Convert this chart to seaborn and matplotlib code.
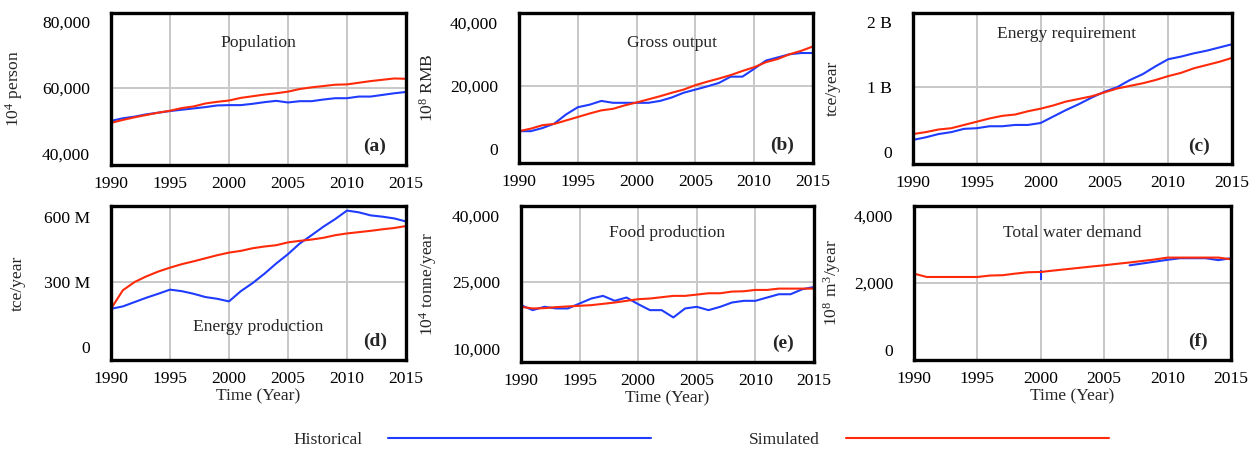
import numpy as np
import pandas as pd
import matplotlib
matplotlib.use("Agg")
import matplotlib.pyplot as plt
from matplotlib.lines import Line2D
import seaborn as sns

# data
years = list(range(1990, 2016))

pop_hist = [49900, 50700, 51200, 51900, 52400, 52900, 53300, 53700, 54100, 54600, 54700, 54700, 55100,
            55600, 56000, 55500, 55900, 55900, 56400, 56800, 56800, 57300, 57300, 57800, 58300, 58700]
pop_sim = [49300, 50200, 51000, 51700, 52400, 53000, 53800, 54300, 55200, 55700, 56100, 56900, 57400,
           57900, 58300, 58800, 59600, 60100, 60500, 60900, 61000, 61500, 62000, 62400, 62800, 62700]

gdp_hist = [5700, 5700, 6700, 8100, 11000, 13300, 14100, 15300, 14700, 14700, 14700, 14700, 15300,
            16400, 17900, 18900, 19900, 21000, 23000, 23000, 25500, 28100, 29100, 30100, 30500, 30500]
gdp_sim = [5700, 6500, 7600, 8000, 9100, 10200, 11300, 12300, 12800, 13900, 14800, 15800, 16800,
           17900, 18900, 20300, 21400, 22400, 23500, 24800, 26000, 27600, 28600, 30100, 31200, 32600]

# billions tce/year
ereq_hist = [0.19, 0.23, 0.28, 0.31, 0.36, 0.37, 0.40, 0.40, 0.42, 0.42, 0.45, 0.55, 0.65,
             0.74, 0.84, 0.93, 1.00, 1.11, 1.20, 1.32, 1.43, 1.47, 1.52, 1.56, 1.61, 1.66]
ereq_sim = [0.28, 0.31, 0.35, 0.37, 0.42, 0.47, 0.52, 0.56, 0.58, 0.63, 0.67, 0.72, 0.78,
            0.82, 0.86, 0.92, 0.98, 1.02, 1.06, 1.11, 1.17, 1.22, 1.29, 1.34, 1.39, 1.45]

# millions tce/year
eprod_hist = [177, 188, 208, 228, 246, 265, 258, 246, 231, 223, 211, 258, 295,
              338, 385, 428, 477, 515, 554, 589, 628, 620, 606, 600, 592, 578]
eprod_sim = [177, 262, 300, 326, 348, 366, 382, 395, 409, 423, 435, 443, 455,
             463, 469, 482, 489, 495, 503, 515, 523, 529, 535, 542, 548, 557]

food_hist = [19780, 18650, 19400, 19030, 19030, 20150, 21270, 21870, 20750, 21500, 20000, 18650, 18650,
             17000, 19030, 19400, 18650, 19400, 20370, 20750, 20750, 21500, 22240, 22240, 23360, 23880]
food_sim = [19400, 19030, 19100, 19330, 19480, 19630, 19780, 20070, 20370, 20750, 21120, 21270, 21570,
            21870, 21870, 22160, 22460, 22460, 22840, 22910, 23210, 23210, 23510, 23510, 23510, 23510]

water_hist_years = [2000, 2007, 2008, 2009, 2010, 2011, 2012, 2013, 2014, 2015]
water_hist = [2250, 2525, 2580, 2635, 2690, 2737, 2737, 2737, 2680, 2737]
water_hist_seg = [0, 1, 1, 1, 1, 1, 1, 1, 1, 1]
water_sim = [2279, 2179, 2179, 2179, 2179, 2179, 2222, 2232, 2280, 2320, 2328, 2370, 2410,
             2450, 2490, 2527, 2570, 2610, 2655, 2700, 2756, 2756, 2756, 2756, 2756, 2706]

blue = "#1f3cff"
red = "#ff2a0a"

sns.set_theme(style="white")
plt.rcParams["font.family"] = ["Liberation Serif", "DejaVu Serif"]
plt.rcParams["mathtext.fontset"] = "custom"
plt.rcParams["mathtext.rm"] = "Liberation Serif"

fig = plt.figure(figsize=(12.56, 4.5), dpi=100)

panels = [
    # title, ylabel, hist, sim, ylim, ticks, ticklabels, letter, title pos, rect
    ("Population", r"$\mathregular{10^4}$ person", pop_hist, pop_sim, (36500, 82700),
     [40000, 60000, 80000], ["40,000", "60,000", "80,000"], "(a)", (0.5, 0.8),
     [111, 13, 406, 165], -0.29),
    ("Gross output", r"$\mathregular{10^8}$ RMB", gdp_hist, gdp_sim, (-4400, 43200),
     [0, 20000, 40000], ["0", "20,000", "40,000"], "(b)", (0.52, 0.8),
     [519, 13, 813, 163], -0.28),
    ("Energy requirement", "tce/year", ereq_hist, ereq_sim, (-0.18, 2.14),
     [0, 1, 2], ["0", "1 B", "2 B"], "(c)", (0.48, 0.86),
     [913, 13, 1232, 164], -0.225),
    ("Energy production", "tce/year", eprod_hist, eprod_sim, (-58, 649),
     [0, 300, 600], ["0", "300 M", "600 M"], "(d)", (0.5, 0.214),
     [111, 206, 406, 360], -0.29),
    ("Food production", r"$\mathregular{10^4}$ tonne/year", food_hist, food_sim, (6940, 42160),
     [10000, 25000, 40000], ["10,000", "25,000", "40,000"], "(e)", (0.5, 0.825),
     [521, 206, 814, 362], -0.28),
    ("Total water demand", r"$\mathregular{10^8\ m^3}$/year", None, water_sim, (-290, 4290),
     [0, 2000, 4000], ["0", "2,000", "4,000"], "(f)", (0.5, 0.825),
     [914, 206, 1231, 360], -0.225),
]

W, H = 1256, 450
for i, (title, ylab, hist, sim, ylim, yt, ytl, letter, tpos, box, ylx) in enumerate(panels):
    x0, y0, x1, y1 = box
    ax = fig.add_axes([x0 / W, 1 - y1 / H, (x1 - x0) / W, (y1 - y0) / H])

    ax.grid(axis="x", color="#c8c8c8", lw=1.4)
    ax.axhline(yt[1], color="#c8c8c8", lw=1.4, zorder=0.5)
    ax.set_axisbelow(True)

    if hist is not None:
        sns.lineplot(x=years, y=hist, ax=ax, color=blue, lw=1.5)
    else:
        df_w = pd.DataFrame({"year": water_hist_years, "val": water_hist, "seg": water_hist_seg})
        sns.lineplot(data=df_w[df_w.seg == 1], x="year", y="val", ax=ax, color=blue, lw=1.5)
        single = df_w[df_w.seg == 0]
        ax.plot(single.year, single.val, ls="none", marker="|", ms=7, mew=1.5, color=blue)
    sns.lineplot(x=years, y=sim, ax=ax, color=red, lw=1.5)

    ax.set_xlim(1990, 2015)
    ax.set_ylim(*ylim)
    ax.set_xticks(range(1990, 2016, 5))
    ax.set_yticks(yt)
    ax.set_yticklabels(ytl)
    ax.tick_params(axis="both", length=0, labelsize=12.6, colors="black")
    ax.tick_params(axis="x", pad=8)
    ax.tick_params(axis="y", pad=15)
    for s in ax.spines.values():
        s.set_visible(True)
        s.set_color("black")
        s.set_linewidth(2.4)

    ax.set_ylabel(ylab, fontsize=12.6)
    ax.yaxis.set_label_coords(ylx, 0.5)
    if i >= 3:
        ax.set_xlabel("Time (Year)", fontsize=12.6, labelpad=1)
    else:
        ax.set_xlabel("")

    ax.text(tpos[0], tpos[1], title, transform=ax.transAxes, ha="center", va="center", fontsize=12.6)
    ax.text(0.895, 0.12, letter, transform=ax.transAxes, ha="center", va="center",
            fontsize=14, fontweight="bold")

handles = [Line2D([], [], color=blue, lw=1.5), Line2D([], [], color=red, lw=1.5)]
fig.legend(handles, ["Historical", "Simulated"], loc="center", bbox_to_anchor=(0.558, 0.022),
           ncol=2, frameon=False, fontsize=12.6, handlelength=15, handletextpad=1.5,
           columnspacing=5.6, markerfirst=False)

fig.savefig("out.png", dpi=100)
